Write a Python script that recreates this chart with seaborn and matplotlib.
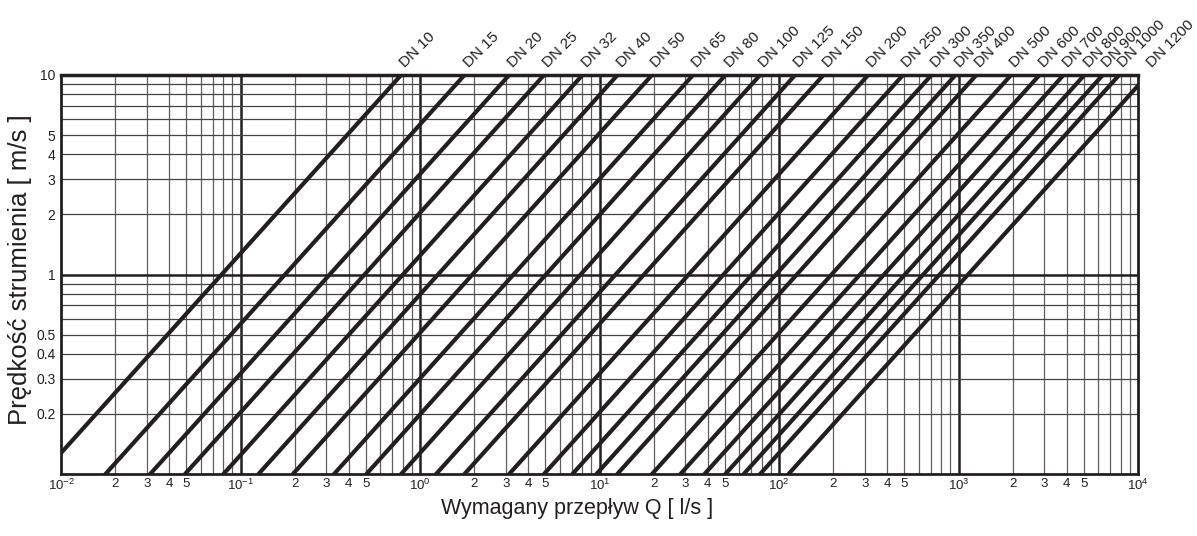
import matplotlib
matplotlib.use('Agg')
import numpy as np
import pandas as pd
import seaborn as sns
import matplotlib.pyplot as plt
from matplotlib.ticker import FixedLocator, NullFormatter

# pipe sizes and the flow (l/s) at which each line reaches 10 m/s and 0.1 m/s
dn_labels = ['DN 10', 'DN 15', 'DN 20', 'DN 25', 'DN 32', 'DN 40', 'DN 50', 'DN 65',
             'DN 80', 'DN 100', 'DN 125', 'DN 150', 'DN 200', 'DN 250', 'DN 300',
             'DN 350', 'DN 400', 'DN 500', 'DN 600', 'DN 700', 'DN 800', 'DN 900',
             'DN 1000', 'DN 1200']
q_top = [0.785, 1.77, 3.14, 4.91, 8.04, 12.6, 19.6, 33.2, 50.3, 78.5, 123, 177,
         314, 491, 707, 962, 1257, 1963, 2827, 3848, 5027, 6362, 7854, 11310]
q_bottom = [0.00785, 0.0177, 0.0314, 0.0491, 0.0804, 0.126, 0.196, 0.332, 0.503,
            0.785, 1.23, 1.77, 3.14, 4.91, 7.07, 9.62, 12.57, 19.63, 28.27, 38.48,
            50.27, 63.62, 78.54, 113.1]
v_top = 10
v_bottom = 0.1

x_decades = [1e-2, 1e-1, 1e0, 1e1, 1e2, 1e3, 1e4]
x_dec_labels = ['$\\mathregular{10^{-2}}$', '$\\mathregular{10^{-1}}$', '$\\mathregular{10^{0}}$',
                '$\\mathregular{10^{1}}$', '$\\mathregular{10^{2}}$', '$\\mathregular{10^{3}}$',
                '$\\mathregular{10^{4}}$']
x_sub_labels = ['2', '3', '4', '5']
y_ticks = [0.2, 0.3, 0.4, 0.5, 1, 2, 3, 4, 5, 10]
y_labels = ['0.2', '0.3', '0.4', '0.5', '1', '2', '3', '4', '5', '10']

sns.set_style('white')
plt.rcParams['font.family'] = ['Liberation Sans', 'DejaVu Sans']
plt.rcParams['mathtext.fontset'] = 'custom'
plt.rcParams['mathtext.rm'] = 'Liberation Sans'

ink = '#231f20'

rows = []
for lab, q0, q1 in zip(dn_labels, q_bottom, q_top):
    rows.append({'DN': lab, 'Q': q0, 'v': v_bottom})
    rows.append({'DN': lab, 'Q': q1, 'v': v_top})
df = pd.DataFrame(rows)

fig = plt.figure(figsize=(11.97, 5.36), dpi=100)
ax = fig.add_axes([61 / 1197, 62 / 536, 1077 / 1197, 399 / 536])
ax.set_xscale('log')
ax.set_yscale('log')
ax.set_xlim(1e-2, 1e4)
ax.set_ylim(0.1, 10)

# grid
sub_pos = [d * m for d in x_decades[:-1] for m in range(2, 10)]
for x in sub_pos:
    ax.axvline(x, color='#5e5e5e', lw=0.9, zorder=1)
for x in x_decades[1:-1]:
    ax.axvline(x, color=ink, lw=1.8, zorder=1)
for y in [m * d for d in [0.1, 1] for m in range(2, 10)]:
    ax.axhline(y, color='#454545', lw=0.9, zorder=1)
ax.axhline(1, color=ink, lw=1.8, zorder=1)

sns.lineplot(data=df, x='Q', y='v', hue='DN', palette=[ink] * len(dn_labels),
             legend=False, sort=False, lw=3.0, ax=ax, zorder=3)

for lab, q1 in zip(dn_labels, q_top):
    ax.annotate(lab, xy=(q1, v_top), xytext=(3, 5), textcoords='offset points',
                rotation=45, rotation_mode='anchor', ha='left', va='baseline',
                fontsize=11, color=ink, annotation_clip=False)

# ticks
xt = []
xl = []
for i, d in enumerate(x_decades):
    xt.append(d)
    xl.append(x_dec_labels[i])
    if i < len(x_decades) - 1:
        for s in x_sub_labels:
            xt.append(d * int(s))
            xl.append(s)
ax.xaxis.set_major_locator(FixedLocator(xt))
ax.set_xticklabels(xl, fontsize=9.5)
ax.xaxis.set_minor_locator(FixedLocator([]))
ax.xaxis.set_minor_formatter(NullFormatter())
ax.yaxis.set_major_locator(FixedLocator(y_ticks))
ax.set_yticklabels(y_labels, fontsize=10)
ax.yaxis.set_minor_locator(FixedLocator([]))
ax.yaxis.set_minor_formatter(NullFormatter())
ax.tick_params(axis='x', length=0, pad=3, colors=ink)
ax.tick_params(axis='y', length=0, pad=4, colors=ink)

for s in ax.spines.values():
    s.set_color(ink)
    s.set_linewidth(2.0)
ax.spines['top'].set_linewidth(2.5)

ax.set_xlabel('Wymagany przepływ Q [ l/s ]', fontsize=15.5, color=ink)
ax.xaxis.set_label_coords(0.4796, -0.06)
ax.set_ylabel('Prędkość strumienia [ m/s ]', fontsize=18.5, color=ink)
ax.yaxis.set_label_coords(-0.027, 0.511)

fig.savefig('out.png', dpi=100)
